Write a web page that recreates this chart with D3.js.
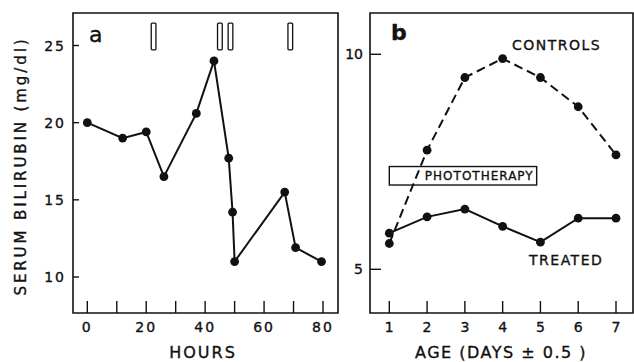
<!DOCTYPE html>
<html>
<head>
<meta charset="utf-8">
<script src="https://cdn.jsdelivr.net/npm/d3@7"></script>
<style>
  body { margin: 0; background: #fff; }
  svg text { font-family: "DejaVu Sans", sans-serif; fill: #111; stroke: #111; stroke-width: 0.35px; }
</style>
</head>
<body>
<svg id="chart" width="634" height="362"></svg>
<script>
// panel a: serum bilirubin over hours
const hours = [0, 12, 20, 26, 37, 43, 48, 49.3, 50, 67, 70.7, 79.5];
const bilirubin = [20, 19, 19.4, 16.5, 20.6, 24, 17.7, 14.2, 11, 15.5, 11.9, 11];
const hourTicks = [0, 10, 20, 30, 40, 50, 60, 70, 80];
const hourLabels = [0, 20, 40, 60, 80];
const bilirubinTicks = [10, 15, 20, 25];
// phototherapy marks along the top of panel a (start, end hours)
const markStart = [21.7, 44.2, 47.8, 68.1];
const markEnd = [23.3, 45.8, 49.4, 69.7];

// panel b: bilirubin by age in days
const days = [1, 2, 3, 4, 5, 6, 7];
const controls = [5.6, 7.77, 9.46, 9.9, 9.46, 8.78, 7.66];
const treated = [5.84, 6.22, 6.4, 6.0, 5.63, 6.19, 6.19];
const ageTicks = [5, 10];
const phototherapySpan = [1, 4.9];
const phototherapyLevel = [6.96, 7.39];

const svg = d3.select("#chart");
const ink = "#111";

// ---- panel a
const xa = d3.scaleLinear().domain([0, 80]).range([87.3, 323]);
const ya = d3.scaleLinear().domain([10, 25]).range([277, 45.5]);
const fa = { left: 73, right: 338, top: 13, bottom: 313 };

const ga = svg.append("g");
ga.append("path")
  .attr("d", `M${fa.left},${fa.top}V${fa.bottom}H${fa.right}V${fa.top}Z`)
  .attr("fill", "none").attr("stroke", ink).attr("stroke-width", 1.6);

// x ticks (inside, upward)
ga.selectAll(".xtick").data(hourTicks).enter().append("line")
  .attr("x1", d => xa(d)).attr("x2", d => xa(d))
  .attr("y1", fa.bottom).attr("y2", fa.bottom - 12)
  .attr("stroke", ink).attr("stroke-width", 1.4);
ga.selectAll(".xlab").data(hourLabels).enter().append("text")
  .attr("x", d => xa(d)).attr("y", 332)
  .attr("text-anchor", "middle").attr("font-size", 14)
  .attr("letter-spacing", 2)
  .text(d => d);

// y ticks (inside)
ga.selectAll(".ytick").data(bilirubinTicks).enter().append("line")
  .attr("x1", fa.left).attr("x2", fa.left + 6)
  .attr("y1", d => ya(d)).attr("y2", d => ya(d))
  .attr("stroke", ink).attr("stroke-width", 1.4);
ga.selectAll(".ylab").data(bilirubinTicks).enter().append("text")
  .attr("x", 66).attr("y", d => ya(d) + 5)
  .attr("text-anchor", "end").attr("font-size", 14)
  .attr("letter-spacing", 2)
  .text(d => d);

// markers
ga.selectAll(".mark").data(markStart).enter().append("rect")
  .attr("x", d => xa(d))
  .attr("width", (d, i) => xa(markEnd[i]) - xa(d))
  .attr("y", ya(26.45)).attr("height", ya(24.72) - ya(26.45))
  .attr("rx", 1)
  .attr("fill", "#fff").attr("stroke", ink).attr("stroke-width", 1.3);

const lineA = d3.line().x((d, i) => xa(hours[i])).y(d => ya(d));
ga.append("path").datum(bilirubin)
  .attr("d", lineA).attr("fill", "none")
  .attr("stroke", ink).attr("stroke-width", 2);
ga.selectAll(".dot").data(bilirubin).enter().append("circle")
  .attr("cx", (d, i) => xa(hours[i])).attr("cy", d => ya(d))
  .attr("r", 4.4).attr("fill", ink);

ga.append("text").attr("x", 89).attr("y", 42)
  .attr("font-size", 22).text("a");

ga.append("text").attr("x", 203).attr("y", 358)
  .attr("text-anchor", "middle").attr("font-size", 16)
  .attr("letter-spacing", 2).text("HOURS");

svg.append("text")
  .attr("transform", "translate(26,166) rotate(-90)")
  .attr("text-anchor", "middle").attr("font-size", 15)
  .attr("letter-spacing", 2.9)
  .text("SERUM BILIRUBIN (mg/dl)");

// ---- panel b
const xb = d3.scaleLinear().domain([1, 7]).range([389.3, 616]);
const yb = d3.scaleLinear().domain([5, 10]).range([269.3, 54.3]);
const fb = { left: 370, right: 633, top: 13, bottom: 313 };

const gb = svg.append("g");
gb.append("path")
  .attr("d", `M${fb.left},${fb.top}V${fb.bottom}H${fb.right}V${fb.top}Z`)
  .attr("fill", "none").attr("stroke", ink).attr("stroke-width", 1.6);

gb.selectAll(".xtick").data(days).enter().append("line")
  .attr("x1", d => xb(d)).attr("x2", d => xb(d))
  .attr("y1", fb.bottom).attr("y2", fb.bottom - 12)
  .attr("stroke", ink).attr("stroke-width", 1.4);
gb.selectAll(".xlab").data(days).enter().append("text")
  .attr("x", d => xb(d)).attr("y", 332)
  .attr("text-anchor", "middle").attr("font-size", 14)
  .text(d => d);

gb.selectAll(".ytick").data(ageTicks).enter().append("line")
  .attr("x1", fb.left).attr("x2", fb.left + 11)
  .attr("y1", d => yb(d)).attr("y2", d => yb(d))
  .attr("stroke", ink).attr("stroke-width", 1.4);
gb.selectAll(".ylab").data(ageTicks).enter().append("text")
  .attr("x", 363).attr("y", d => yb(d) + 5)
  .attr("text-anchor", "end").attr("font-size", 14)
  .text(d => d);

// phototherapy box
gb.append("rect")
  .attr("x", xb(phototherapySpan[0]))
  .attr("width", xb(phototherapySpan[1]) - xb(phototherapySpan[0]))
  .attr("y", yb(phototherapyLevel[1]))
  .attr("height", yb(phototherapyLevel[0]) - yb(phototherapyLevel[1]))
  .attr("fill", "#fff").attr("stroke", ink).attr("stroke-width", 1.4);
gb.append("text")
  .attr("x", xb(phototherapySpan[1]) - 3)
  .attr("y", yb(d3.mean(phototherapyLevel)) + 4.5)
  .attr("text-anchor", "end").attr("font-size", 12)
  .attr("letter-spacing", 1).text("PHOTOTHERAPY");

const lineB = d3.line().x((d, i) => xb(days[i])).y(d => yb(d));
gb.append("path").datum(controls)
  .attr("d", lineB).attr("fill", "none")
  .attr("stroke", ink).attr("stroke-width", 2)
  .attr("stroke-dasharray", "9,5");
gb.append("path").datum(treated)
  .attr("d", lineB).attr("fill", "none")
  .attr("stroke", ink).attr("stroke-width", 2);

gb.selectAll(".cdot").data(controls).enter().append("circle")
  .attr("cx", (d, i) => xb(days[i])).attr("cy", d => yb(d))
  .attr("r", 4.4).attr("fill", ink);
gb.selectAll(".tdot").data(treated).enter().append("circle")
  .attr("cx", (d, i) => xb(days[i])).attr("cy", d => yb(d))
  .attr("r", 4.4).attr("fill", ink);

gb.append("text").attr("x", 391).attr("y", 40)
  .attr("font-size", 22).attr("font-weight", "bold").text("b");
gb.append("text").attr("x", 512).attr("y", 50)
  .attr("font-size", 14).attr("letter-spacing", 1.5).text("CONTROLS");
gb.append("text").attr("x", 529).attr("y", 265)
  .attr("font-size", 14).attr("letter-spacing", 1.5).text("TREATED");

gb.append("text").attr("x", 501).attr("y", 358)
  .attr("text-anchor", "middle").attr("font-size", 16)
  .attr("letter-spacing", 1.5).text("AGE (DAYS ± 0.5 )");
</script>
</body>
</html>
